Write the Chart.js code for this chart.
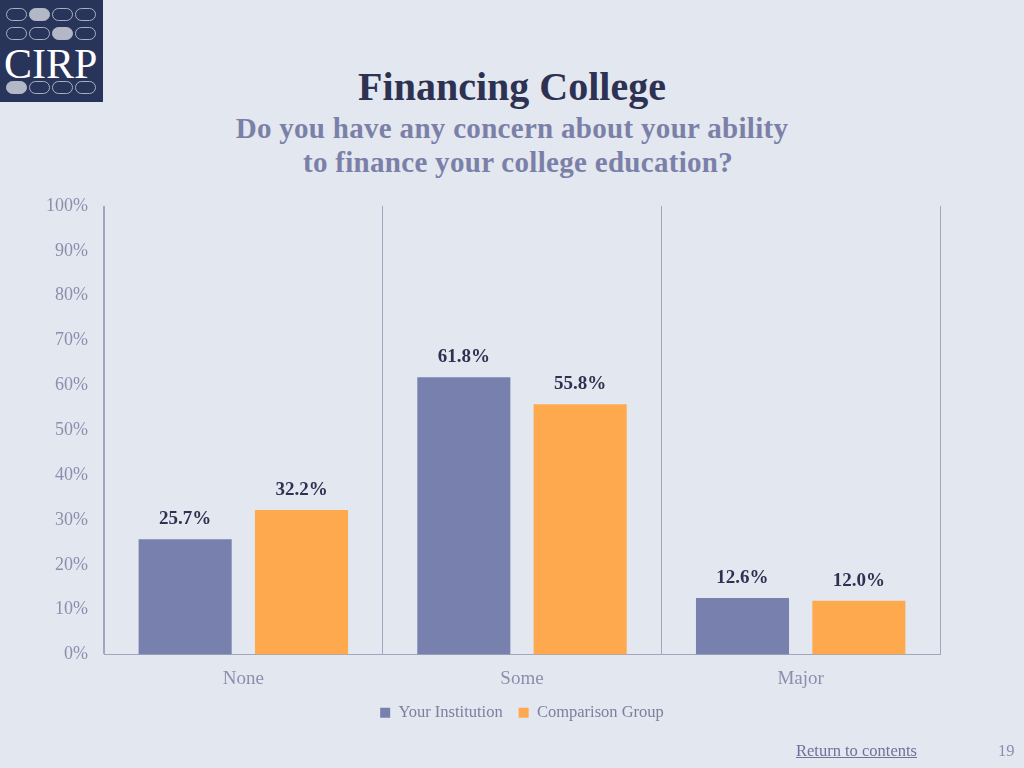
<!DOCTYPE html>
<html>
<head>
<meta charset="utf-8">
<script src="https://cdn.jsdelivr.net/npm/chart.js@4.4.1/dist/chart.umd.min.js"></script>
<style>
  body { margin: 0; width: 1024px; height: 768px; background: #e3e7ef; overflow: hidden; position: relative; font-family: "Liberation Serif", "DejaVu Serif", serif; }
  #wrap { position: absolute; left: 0; top: 0; width: 1024px; height: 768px; }
  .logo { position: absolute; left: 0; top: 0; width: 103px; height: 102px; background: #29345a; }
  .ov { position: absolute; width: 21px; height: 13px; border: 1px solid #a9afc2; border-radius: 8px; box-sizing: border-box; }
  .ov.f { background: #b3b8c6; border-color: #b3b8c6; }
  .logo .txt { position: absolute; left: 4px; top: 43px; font-size: 42px; color: #fff; line-height: 42px; }
  h1 { position: absolute; left: 0; width: 1024px; top: 64px; margin: 0; text-align: center; font-size: 40px; line-height: 46px; font-weight: bold; color: #2d3252; }
  .sub { position: absolute; left: 0; width: 1024px; text-align: center; font-size: 29px; line-height: 33px; letter-spacing: 0.3px; font-weight: bold; color: #7b80a9; margin: 0; }
  .foot { position: absolute; top: 741px; font-size: 16.5px; color: #6d7299; }
</style>
</head>
<body>
<div class="logo" id="logo"><div class="txt">CIRP</div></div>
<h1>Financing College</h1>
<p class="sub" style="top:112px;">Do you have any concern about your ability</p>
<p class="sub" style="top:146px;padding-left:6px;">to finance your college education?</p>
<div id="wrap"><canvas id="chart" width="1024" height="768"></canvas></div>
<div class="foot" style="left:796px;text-decoration:underline;">Return to contents</div>
<div class="foot" style="left:998px;color:#8a8fae;">19</div>
<script>
// ovals of the logo
var ovalRows = [[8, 1], [27, 2], [81, 0]];
var logo = document.getElementById('logo');
ovalRows.forEach(function(r) {
    for (var i = 0; i < 4; i++) {
        var d = document.createElement('div');
        d.className = 'ov' + (i === r[1] ? ' f' : '');
        d.style.left = (6 + i * 23) + 'px';
        d.style.top = r[0] + 'px';
        logo.appendChild(d);
    }
});

var categories = ['None', 'Some', 'Major'];
var yourInstitution = [25.7, 61.8, 12.6];
var comparisonGroup = [32.2, 55.8, 12.0];
var seriesNames = ['Your Institution', 'Comparison Group'];

var valueLabels = {
    id: 'valueLabels',
    afterDatasetsDraw: function(chart) {
        var ctx = chart.ctx;
        ctx.save();
        ctx.font = 'bold 19px "Liberation Serif", serif';
        ctx.fillStyle = '#2d3252';
        ctx.textAlign = 'center';
        ctx.textBaseline = 'middle';
        chart.data.datasets.forEach(function(ds, i) {
            chart.getDatasetMeta(i).data.forEach(function(bar, j) {
                ctx.fillText(ds.data[j].toFixed(1) + '%', bar.x, bar.y - 20);
            });
        });
        ctx.restore();
    }
};

var ctx = document.getElementById('chart');
new Chart(ctx, {
    type: 'bar',
    data: {
        labels: categories,
        datasets: [{
            label: seriesNames[0],
            data: yourInstitution,
            backgroundColor: '#7880ad',
            categoryPercentage: 0.835,
            barPercentage: 0.8
        }, {
            label: seriesNames[1],
            data: comparisonGroup,
            backgroundColor: '#ffa94f',
            categoryPercentage: 0.835,
            barPercentage: 0.8
        }]
    },
    options: {
        responsive: false,
        animation: false,
        layout: { padding: { left: 20, right: 0, top: 206, bottom: 37 } },
        plugins: {
            legend: {
                position: 'bottom',
                labels: {
                    boxWidth: 10, boxHeight: 10, padding: 16,
                    color: '#7b80a0',
                    font: { family: '"Liberation Serif", serif', size: 16.5 }
                }
            },
            tooltip: { enabled: false }
        },
        scales: {
            x: {
                afterFit: function(scale) { scale.height = 34; },
                grid: { color: '#a3a7bd', drawTicks: false, offset: true },
                border: { color: '#a3a7bd' },
                ticks: { color: '#8a8fae', padding: 13, font: { family: '"Liberation Serif", serif', size: 19 } }
            },
            y: {
                min: 0, max: 100,
                afterFit: function(scale) { scale.width = 84; },
                grid: { display: false },
                border: { color: '#a3a7bd' },
                ticks: {
                    stepSize: 10, padding: 8, color: '#8a8fae',
                    font: { family: '"Liberation Serif", serif', size: 18 },
                    callback: function(v) { return v + '%'; }
                }
            },
            yRight: {
                position: 'right',
                min: 0, max: 100,
                afterFit: function(scale) { scale.width = 84; },
                grid: { display: false },
                border: { display: false },
                ticks: { display: false }
            }
        }
    },
    plugins: [valueLabels]
});
</script>
</body>
</html>
